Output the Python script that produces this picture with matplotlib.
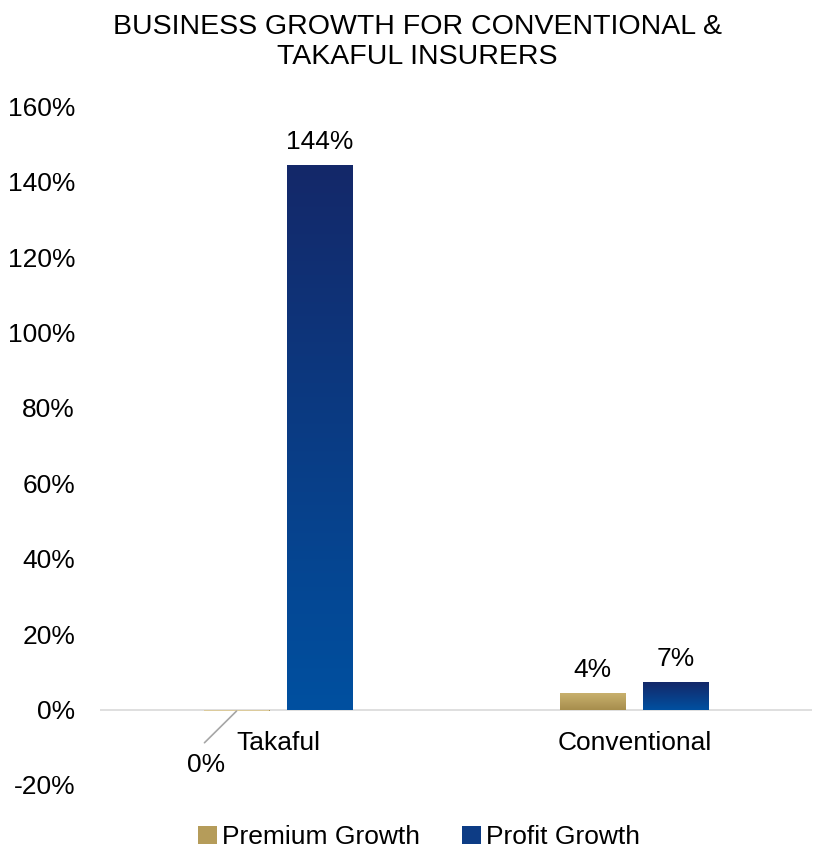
import numpy as np
import matplotlib.pyplot as plt
from matplotlib.colors import LinearSegmentedColormap
from matplotlib.patches import Patch

plt.rcParams['font.family'] = ['Liberation Sans', 'DejaVu Sans']

categories = ['Takaful', 'Conventional']
premium_growth = [-0.4, 4.4]
profit_growth = [144.4, 7.4]
series_names = ['Premium Growth', 'Profit Growth']
y_ticks = [-20, 0, 20, 40, 60, 80, 100, 120, 140, 160]

# top colour, bottom colour of each series gradient
gold = ('#c9b16d', '#a68d4d')
navy = ('#142869', '#0050a0')
FS = 19

fig = plt.figure(figsize=(8.14, 8.5), dpi=100)
ax = fig.add_axes([0.123, 0.0765, 0.875, 0.7985])

x = np.arange(len(categories))
w = 0.185
gap = 0.0245
bars_p = ax.bar(x - w / 2 - gap, premium_growth, w, color='none')
bars_q = ax.bar(x + w / 2 + gap, profit_growth, w, color='none')

grad = np.linspace(0, 1, 256).reshape(-1, 1)


def fill_gradient(bars, cols):
    cmap = LinearSegmentedColormap.from_list('g', [cols[1], cols[0]])
    for b in bars:
        x0, y0 = b.get_x(), b.get_y()
        x1, y1 = x0 + b.get_width(), y0 + b.get_height()
        lo, hi = min(y0, y1), max(y0, y1)
        im = ax.imshow(grad, cmap=cmap, aspect='auto', origin='lower',
                       extent=(x0, x1, lo, hi), zorder=2)
        im.set_clip_path(b)


fill_gradient(bars_p, gold)
fill_gradient(bars_q, navy)
# the small negative premium bar reads lighter
bars_p[0].set_facecolor('#dccb9c')
bars_p[0].set_zorder(3)

ax.set_xlim(-0.5, 1.5)
ax.set_ylim(-20, 160)
ax.set_yticks(y_ticks)
ax.set_yticklabels([f'{t}%' for t in y_ticks])
ax.set_xticks([])
ax.tick_params(axis='y', length=0, labelsize=FS, pad=18)
for s in ax.spines.values():
    s.set_visible(False)
ax.axhline(0, color='#d9d9d9', lw=1.2, zorder=1)

# category names just under the zero line
for xi, name in zip(x, categories):
    ax.text(xi, -5.6, name, ha='center', va='top', fontsize=FS)

# value labels
for b, v in zip(bars_q, profit_growth):
    ax.annotate(f'{v:.0f}%', (b.get_x() + b.get_width() / 2, v),
                xytext=(0, 8), textcoords='offset points',
                ha='center', va='bottom', fontsize=FS)
ax.annotate(f'{premium_growth[1]:.0f}%',
            (bars_p[1].get_x() + bars_p[1].get_width() / 2, premium_growth[1]),
            xytext=(0, 8), textcoords='offset points',
            ha='center', va='bottom', fontsize=FS)
# leader line for the tiny negative bar
bx = bars_p[0].get_x() + bars_p[0].get_width() / 2
ax.annotate('', (bx, premium_growth[0]), xytext=(bx - 0.09, -8.8),
            arrowprops=dict(arrowstyle='-', color='#a6a6a6', lw=1.2,
                            shrinkA=0, shrinkB=0))
ax.text(bx - 0.085, -14.6, f'{abs(premium_growth[0]):.0f}%',
        ha='center', va='center', fontsize=FS)

fig.text(0.513, 0.983, 'BUSINESS GROWTH FOR CONVENTIONAL &\nTAKAFUL INSURERS',
         ha='center', va='top', fontsize=20.5, linespacing=1.2)

handles = [Patch(facecolor='#b59c5a'), Patch(facecolor='#0d3c85')]
fig.legend(handles, series_names, loc='center', bbox_to_anchor=(0.515, 0.015),
           ncol=2, frameon=False, fontsize=FS, handlelength=0.7,
           handleheight=0.7, handletextpad=0.2, columnspacing=1.6)

fig.savefig('out.png', dpi=100)
